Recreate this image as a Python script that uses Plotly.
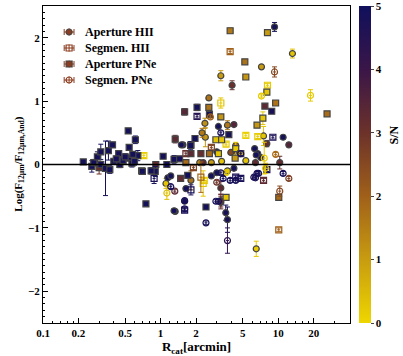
import plotly.graph_objects as go
from plotly.colors import sample_colorscale

# S/N colour scale (0 = yellow, 5 = navy)
sn_scale = [
    [0.0, "rgb(238,214,0)"],
    [0.2, "rgb(200,156,16)"],
    [0.4, "rgb(160,96,26)"],
    [0.6, "rgb(108,50,42)"],
    [0.8, "rgb(58,22,72)"],
    [1.0, "rgb(16,16,92)"],
]
sn_max = 5
sn_ticks = [0, 1, 2, 3, 4, 5]

x_tickvals = [0.1, 0.2, 0.5, 1, 2, 5, 10, 20]
x_ticktext = ["0.1", "0.2", "0.5", "1", "2", "5", "10", "20"]
x_minor = [0.12, 0.14, 0.16, 0.18, 0.3, 0.4, 0.6, 0.7, 0.8, 0.9,
           1.2, 1.4, 1.6, 1.8, 3, 4, 6, 7, 8, 9, 12, 14, 16, 18, 30]

# Aperture HII (filled circles): x, y, err, S/N
ap_hii_x = [9.3, 13.2, 7.2, 3.25, 4.05, 2.57, 2.38, 3.1, 3.7, 4.2, 2.25, 2.4, 7.5, 11, 12.3,
            1.55, 8.0, 6.3, 10.3, 3.7, 3.25, 1.33, 1.6, 1.11, 1.15, 1.64, 1.3, 1.5, 6.5, 7.1,
            6.7, 3.0, 3.3, 2.7, 2.3, 2.15, 3.95, 4.35, 5.3, 6.4, 1.22, 1.81, 2.7, 3.0, 4.2,
            3.7, 3.25, 3.25, 3.58, 4.35, 6.5]
ap_hii_y = [2.17, 1.75, 1.54, 1.4, 1.25, 1.05, 0.65, 0.6, 0.62, 0.63, 0.5, 0.43, 0.45, 0.43, 0.31,
            0.31, 0.33, 0.25, 0.03, -0.87, -0.6, -0.74, -0.58, -0.3, -0.21, -0.38, -0.73, 0.31, -1.33, 0.11,
            0.17, 0.2, 0.05, 0.03, 0.03, 0.03, 0.19, 0.22, 0.06, 0.03, -0.18, -0.25, -0.18, -0.13, -0.06,
            -0.1, -0.37, -0.57, -0.76, 0.3, 0.15]
ap_hii_err = [0.07, 0.07, 0.03, 0.08, 0.07, 0.03, 0.08, 0.03, 0.07, 0.03, 0.07, 0.15, 0.15, 0.03, 0.03,
              0.03, 0.05, 0.03, 0.1, 0.2, 0.1, 0.03, 0.03, 0.08, 0.03, 0.03, 0.03, 0.03, 0.12, 0.03,
              0.03, 0.03, 0.03, 0.03, 0.03, 0.03, 0.03, 0.03, 0.03, 0.03, 0.03, 0.15, 0.03, 0.03, 0.03,
              0.03, 0.1, 0.1, 0.12, 0.03, 0.03]
ap_hii_sn = [4.9, 0.3, 1.0, 1.0, 3.1, 1.7, 1.2, 4.9, 1.6, 3.5, 1.6, 1.1, 0.3, 4.9, 3.5,
             4.9, 3.2, 4.9, 3.2, 4.8, 3.2, 4.9, 4.9, 0.3, 4.9, 4.9, 4.9, 4.9, 0.2, 4.9,
             4.9, 4.9, 0.3, 1.0, 3.3, 1.2, 2.5, 3.4, 0.3, 3.2, 4.9, 1.7, 4.9, 4.9, 4.9,
             0.3, 3.2, 3.2, 4.8, 1.7, 4.9]

# Segmen. HII (open squares)
sg_hii_x = [0.72, 0.88, 2.04, 3.9, 8.1, 3.25, 5.3, 6.7, 9.0, 2.7, 3.6, 1.64, 1.9, 2.2, 2.35,
            1.81, 1.6, 4.35, 4.8, 2.3, 8.0, 7.5, 10.1]
sg_hii_y = [0.14, -0.22, 0.76, 1.78, 1.25, 0.97, 0.46, 0.44, 0.43, 0.27, 0.32, 0.17, -0.05, -0.2, -0.25,
            -0.4, -0.72, -0.2, -0.22, -0.3, -0.08, -0.25, -1.03]
sg_hii_err = [0.03, 0.08, 0.03, 0.03, 0.03, 0.08, 0.03, 0.03, 0.03, 0.03, 0.03, 0.03, 0.03, 0.24, 0.03,
              0.08, 0.03, 0.03, 0.03, 0.2, 0.03, 0.03, 0.03]
sg_hii_sn = [0.1, 4.8, 4.5, 2.0, 0.2, 0.3, 0.1, 0.2, 4.7, 2.6, 0.2, 3.1, 2.6, 1.9, 0.1,
             4.8, 4.8, 4.8, 4.8, 0.3, 4.8, 3.3, 2.0]

# Aperture PNe (filled squares)
ap_pne_x = [0.22, 0.26, 0.27, 0.29, 0.31, 0.31, 0.34, 0.36, 0.39, 0.37, 0.40, 0.44, 0.45, 0.48, 0.53,
            0.54, 0.61, 0.54, 0.57, 0.64, 0.60, 0.69, 0.75, 0.9, 1.05, 1.13, 0.83, 0.5, 0.58, 0.42,
            0.30, 0.91, 1.33, 1.81, 1.96, 2.04, 1.6, 2.6, 3.25, 2.57, 3.9, 8.1, 5.2, 5.3, 9.5,
            7.7, 26, 8.8, 8.0, 3.8, 6.6, 7.4, 2.95, 3.3, 1.81, 2.2, 2.6, 3.1, 1.64, 4.3,
            1.3, 1.45, 0.7, 1.48, 1.7, 2.43, 3.6, 10.1, 4.35, 4.8, 1.8]
ap_pne_y = [0.04, -0.03, 0.03, 0.12, 0.2, 0.0, -0.06, 0.22, 0.31, -0.08, 0.05, 0.17, 0.0, 0.06, 0.53,
            0.27, 0.39, 0.1, 0.02, 0.14, 0.05, -0.1, -0.62, -0.11, 0.13, 0.0, -0.1, 0.12, 0.16, 0.09,
            -0.05, 0.0, 0.4, 0.31, 0.41, 0.9, 0.83, 0.79, 0.75, 0.9, 2.11, 2.08, 1.62, 1.38, 0.97,
            0.92, 0.8, 0.84, 1.14, 0.47, 0.62, 0.73, 0.39, 0.39, 0.17, 0.17, 0.17, 0.17, 0.03, 0.1,
            0.08, 0.09, -0.11, -0.22, -0.17, -0.67, -0.52, -0.52, 0.25, 0.17, 0.3]
ap_pne_err = [0.03, 0.09, 0.05, 0.08, 0.12, 0.05, 0.43, 0.15, 0.04, 0.06, 0.04, 0.03, 0.05, 0.04, 0.04,
              0.03, 0.06, 0.03, 0.06, 0.08, 0.06, 0.03, 0.02, 0.08, 0.03, 0.03, 0.05, 0.05, 0.03, 0.04,
              0.1, 0.03, 0.06, 0.03, 0.03, 0.05, 0.05, 0.03, 0.03, 0.03, 0.04, 0.03, 0.03, 0.03, 0.03,
              0.03, 0.03, 0.03, 0.03, 0.03, 0.03, 0.1, 0.03, 0.03, 0.03, 0.03, 0.03, 0.03, 0.03, 0.03,
              0.06, 0.03, 0.03, 0.03, 0.03, 0.03, 0.03, 0.03, 0.1, 0.03, 0.06]
ap_pne_sn = [4.9] * 30 + [3.0, 3.2, 3.3, 3.3, 4.9, 4.9, 3.4, 4.9, 1.1, 1.7, 1.6, 1.0, 1.7, 1.1, 1.7,
                          3.3, 1.8, 4.8, 0.3, 4.9, 1.1, 0.3, 0.3, 0.3, 3.3, 3.1, 1.8, 0.3, 1.8, 1.0,
                          4.9, 4.9, 4.9, 3.2, 4.9, 4.9, 0.3, 1.8, 0.2, 0.3, 4.9]

# Segmen. PNe (open circles)
sg_pne_x = [9.3, 7.2, 18.8, 2.65, 3.25, 9.5, 11, 12.3, 10.3, 7.6, 6.2, 6.6, 3.7, 2.43, 3.1,
            1.22, 1.32, 1.6, 1.6, 1.13, 3.25, 4.35, 3.9, 3.4, 3.0, 3.6, 2.95, 7.8, 6.8, 6.4, 4.8]
sg_pne_y = [1.46, 1.08, 1.09, 0.75, 0.5, 0.16, -0.14, -0.22, -0.42, 0.1, -0.2, -0.14, -1.2, -0.92, -0.58,
            -0.35, -0.42, -0.57, -0.7, -0.45, -0.13, -0.25, -0.25, -0.22, -0.28, -0.13, -0.58, -0.06, -0.14, -0.21, 0.17]
sg_pne_err = [0.08, 0.03, 0.09, 0.03, 0.03, 0.03, 0.03, 0.03, 0.08, 0.25, 0.03, 0.03, 0.2, 0.03, 0.03,
              0.03, 0.03, 0.03, 0.03, 0.1, 0.03, 0.03, 0.03, 0.03, 0.03, 0.03, 0.03, 0.08, 0.03, 0.03, 0.03]
sg_pne_sn = [2.5, 0.2, 0.2, 2.0, 4.8, 1.8, 4.8, 2.7, 2.5, 0.2, 4.8, 4.8, 4.3, 4.8, 4.8,
             4.8, 3.3, 4.8, 4.8, 0.4, 4.8, 4.8, 4.8, 4.8, 3.0, 0.2, 4.8, 0.3, 4.8, 4.8, 4.8]

series = [
    ("Aperture HII", "circle", ap_hii_x, ap_hii_y, ap_hii_err, ap_hii_sn),
    ("Segmen. HII", "square-open", sg_hii_x, sg_hii_y, sg_hii_err, sg_hii_sn),
    ("Aperture PNe", "square", ap_pne_x, ap_pne_y, ap_pne_err, ap_pne_sn),
    ("Segmen. PNe", "circle-open", sg_pne_x, sg_pne_y, sg_pne_err, sg_pne_sn),
]

legend_color = "rgb(140,60,30)"
fnt = dict(family="Liberation Serif", size=11, color="black", weight="bold")

fig = go.Figure()

# one trace per S/N level so that the error bars take the point colour
for name, symbol, xs, ys, errs, sns in series:
    for level in sorted(set(sns)):
        idx = [i for i, s in enumerate(sns) if s == level]
        col = sample_colorscale(sn_scale, [level / sn_max])[0]
        fig.add_trace(go.Scatter(
            x=[xs[i] for i in idx], y=[ys[i] for i in idx],
            mode="markers", showlegend=False, name=name,
            marker=dict(symbol=symbol, size=6, color=[level] * len(idx),
                        coloraxis="coloraxis", line=dict(width=1.2)),
            error_y=dict(type="data", array=[errs[i] for i in idx],
                         color=col, thickness=1, width=2.5),
            error_x=dict(type="percent", value=3, color=col, thickness=1, width=0),
        ))

# hand-made legend (symbols with error bars, like the original), drawn on a
# hidden unit axis overlaying the plot
leg_x0, leg_y0, leg_dy = 0.085, 0.918, 0.0505
for k, (name, symbol, *_) in enumerate(series):
    yk = leg_y0 - k * leg_dy
    fig.add_trace(go.Scatter(
        x=[leg_x0], y=[yk], xaxis="x2", yaxis="y2", mode="markers",
        showlegend=False, hoverinfo="skip",
        marker=dict(symbol=symbol, size=6, color=legend_color, line=dict(width=1.2)),
        error_y=dict(type="constant", value=0.011, color=legend_color, thickness=1, width=0),
        error_x=dict(type="constant", value=0.016, color=legend_color, thickness=1, width=3),
    ))
    fig.add_annotation(x=leg_x0 + 0.045, y=yk, xref="x2", yref="y2", text=name,
                       showarrow=False, xanchor="left", yanchor="middle",
                       font=dict(fnt, size=12))

fig.add_shape(type="line", xref="paper", yref="y", x0=0, x1=1, y0=0, y1=0,
              line=dict(color="black", width=1.5), layer="above")

fig.add_annotation(x=1.145, y=0.593, xref="paper", yref="paper", text="S/N",
                   textangle=-90, showarrow=False, xanchor="center", yanchor="middle",
                   font=dict(fnt, size=12))
fig.add_annotation(x=-0.081, y=0.5, xref="paper", yref="paper",
                   text="Log(F<sub>12μm</sub>/F<sub>12μm,And</sub>)",
                   textangle=-90, showarrow=False, xanchor="center", yanchor="middle",
                   font=fnt)

fig.update_layout(
    width=403, height=356,
    margin=dict(l=43, r=53, t=6, b=33, autoexpand=False),
    paper_bgcolor="white", plot_bgcolor="white",
    font=fnt,
    showlegend=False,
    coloraxis=dict(
        colorscale=sn_scale, cmin=0, cmax=sn_max,
        colorbar=dict(
            x=1.029, xanchor="left", y=0, yanchor="bottom", len=1,
            thickness=12, xpad=0, ypad=0, outlinewidth=0,
            ticks="outside", ticklen=3, tickfont=fnt,
            tickmode="array", tickvals=sn_ticks,
            ticklabeloverflow="allow",
        ),
    ),
    xaxis=dict(
        type="log", range=[-1, 1.61],
        tickvals=x_tickvals, ticktext=x_ticktext,
        ticks="inside", ticklen=5, tickcolor="black",
        minor=dict(tickvals=x_minor, ticks="inside", ticklen=2, tickcolor="black"),
        showline=True, mirror=True, linecolor="black", linewidth=1,
        showgrid=False, zeroline=False,
        title=dict(text="R<sub>cat</sub>[arcmin]", standoff=2),
    ),
    yaxis=dict(
        range=[-2.5, 2.5], dtick=1,
        ticks="inside", ticklen=5, tickcolor="black",
        minor=dict(dtick=0.1, ticks="inside", ticklen=2, tickcolor="black"),
        showline=True, mirror=True, linecolor="black", linewidth=1,
        showgrid=False, zeroline=False,
    ),
    xaxis2=dict(domain=[0, 1], range=[0, 1], anchor="y2", overlaying="x", visible=False),
    yaxis2=dict(domain=[0, 1], range=[0, 1], anchor="x2", overlaying="y", visible=False),
)

# the page's default body margin would push the figure 8px down and right
fig.write_html("out.html", config={"displayModeBar": False},
               post_script="document.body.style.margin='0px';")
